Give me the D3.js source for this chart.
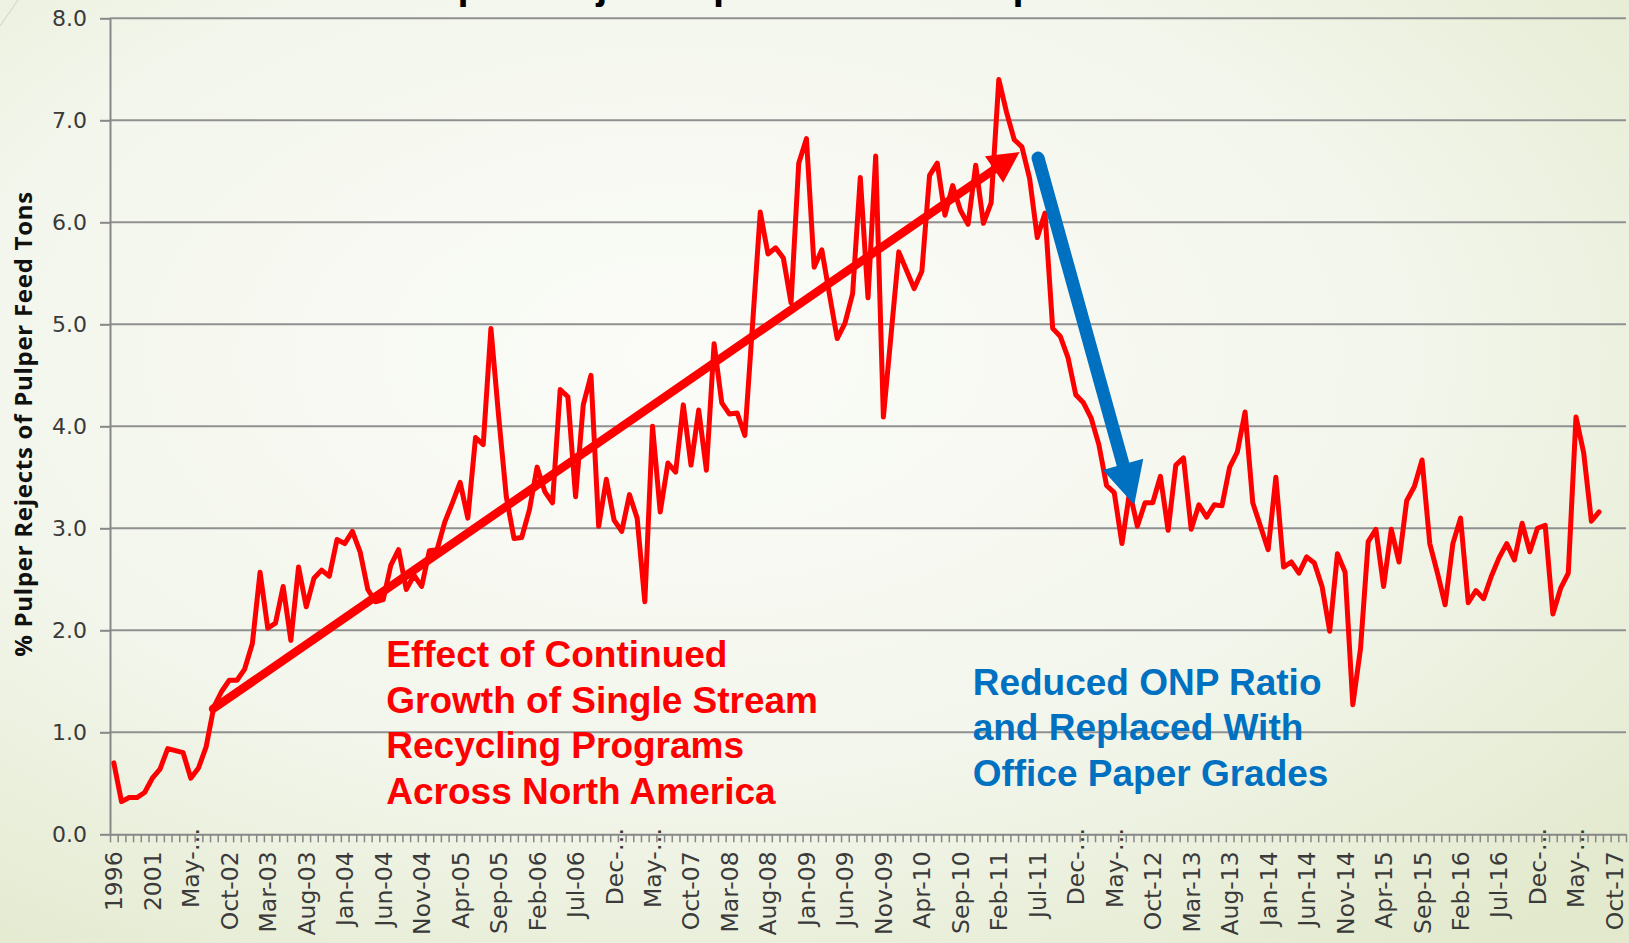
<!DOCTYPE html>
<html>
<head>
<meta charset="utf-8">
<script src="https://cdn.jsdelivr.net/npm/d3@7"></script>
<style>
  html, body { margin: 0; padding: 0; overflow: hidden; background: #f4f6ee; }
</style>
</head>
<body>
<div id="chart"></div>
<script>
// annual points first, then monthly Jan-02 .. Nov-17
const years = ["1996", "1997", "1998", "1999", "2000", "2001"];
const monthNames = ["Jan", "Feb", "Mar", "Apr", "May", "Jun", "Jul", "Aug", "Sep", "Oct", "Nov", "Dec"];
const categories = years.concat(
    d3.range(2002, 2018).flatMap(yr => monthNames.map(m => m + "-" + String(yr).slice(2)))
).slice(0, 197);

// % pulper rejects of pulper feed tons (ends Aug-17)
const rejects = [
    0.70, 0.32, 0.36, 0.36, 0.41, 0.55, 0.64, 0.84, 0.82, 0.80,
    0.55, 0.65, 0.86, 1.25, 1.40, 1.51, 1.51, 1.62, 1.87, 2.57,
    2.02, 2.07, 2.43, 1.90, 2.62, 2.23, 2.51, 2.59, 2.53, 2.89,
    2.85, 2.97, 2.77, 2.40, 2.28, 2.30, 2.64, 2.79, 2.40, 2.54,
    2.43, 2.78, 2.79, 3.06, 3.25, 3.45, 3.10, 3.89, 3.82, 4.96,
    4.10, 3.31, 2.90, 2.91, 3.18, 3.60, 3.36, 3.25, 4.36, 4.29,
    3.31, 4.21, 4.50, 3.02, 3.48, 3.08, 2.97, 3.33, 3.10, 2.28,
    4.00, 3.16, 3.64, 3.55, 4.21, 3.62, 4.16, 3.57, 4.81, 4.23,
    4.12, 4.13, 3.91, 5.00, 6.10, 5.69, 5.75, 5.65, 5.21, 6.58,
    6.82, 5.56, 5.73, 5.29, 4.86, 5.01, 5.30, 6.44, 5.26, 6.65,
    4.09, 4.90, 5.71, 5.53, 5.35, 5.52, 6.46, 6.58, 6.07, 6.36,
    6.12, 5.98, 6.56, 5.99, 6.19, 7.40, 7.08, 6.81, 6.74, 6.43,
    5.85, 6.09, 4.96, 4.88, 4.67, 4.31, 4.23, 4.08, 3.82, 3.42,
    3.35, 2.85, 3.36, 3.02, 3.25, 3.25, 3.51, 2.98, 3.62, 3.69,
    2.99, 3.23, 3.11, 3.23, 3.22, 3.60, 3.75, 4.14, 3.25, 3.02,
    2.79, 3.50, 2.62, 2.67, 2.56, 2.72, 2.66, 2.43, 1.99, 2.75,
    2.57, 1.27, 1.82, 2.87, 2.99, 2.43, 2.99, 2.67, 3.27, 3.41,
    3.67, 2.85, 2.56, 2.25, 2.85, 3.10, 2.27, 2.39, 2.31, 2.53,
    2.71, 2.85, 2.69, 3.05, 2.77, 3.00, 3.03, 2.16, 2.41, 2.56,
    4.09, 3.74, 3.07, 3.16
];

// every 5th category is labelled; the ones Excel cut short keep their ellipsis
const tickLabels = [
    "1996", "2001", "May-\u2026", "Oct-02", "Mar-03", "Aug-03", "Jan-04", "Jun-04", "Nov-04", "Apr-05",
    "Sep-05", "Feb-06", "Jul-06", "Dec-\u2026", "May-\u2026", "Oct-07", "Mar-08", "Aug-08", "Jan-09", "Jun-09",
    "Nov-09", "Apr-10", "Sep-10", "Feb-11", "Jul-11", "Dec-\u2026", "May-\u2026", "Oct-12", "Mar-13", "Aug-13",
    "Jan-14", "Jun-14", "Nov-14", "Apr-15", "Sep-15", "Feb-16", "Jul-16", "Dec-\u2026", "May-\u2026", "Oct-17"
];
const yTicks = [0, 1, 2, 3, 4, 5, 6, 7, 8];

// annotation arrows: [category index, value]
const trendArrow = [[12.9, 1.23], [117.7, 6.69]];
const onpArrow = [[120.1, 6.63], [132.6, 3.23]];

const trendText = ["Effect of Continued", "Growth of Single Stream", "Recycling Programs", "Across North America"];
const onpText = ["Reduced ONP Ratio", "and Replaced With", "Office Paper Grades"];
const trendTextPos = [35.4, 1.64];
const onpTextPos = [111.6, 1.37];

let dimensions = {
    width: 1629,
    height: 943,
    margin: {
        top: 18.3,
        right: 3,
        bottom: 108.7,
        left: 110,
    },
}
dimensions.boundedWidth = dimensions.width - dimensions.margin.left - dimensions.margin.right;
dimensions.boundedHeight = dimensions.height - dimensions.margin.top - dimensions.margin.bottom;

const root = d3.select("#chart")
    .append("svg")
    .attr("width", dimensions.width)
    .attr("height", dimensions.height)
    .style("display", "block");

// slide background
const defs = root.append("defs");
const grad = defs.append("radialGradient")
    .attr("id", "bg")
    .attr("cx", "42%").attr("cy", "38%").attr("r", "80%");
grad.append("stop").attr("offset", "0%").attr("stop-color", "#fbfcf8");
grad.append("stop").attr("offset", "55%").attr("stop-color", "#f3f6ec");
grad.append("stop").attr("offset", "100%").attr("stop-color", "#e2e9cc");
root.append("rect")
    .attr("width", dimensions.width)
    .attr("height", dimensions.height)
    .attr("fill", "url(#bg)");
root.append("line")
    .attr("x1", 0).attr("y1", 26).attr("x2", 18).attr("y2", 0)
    .attr("stroke", "#d5dac6").attr("stroke-width", 1.2);

// slide title, mostly above the visible area (only descenders show)
root.append("text")
    .attr("x", 388)
    .attr("y", -1)
    .style("font-family", "'Liberation Sans', Arial, sans-serif")
    .style("font-weight", "bold")
    .style("font-size", "40px")
    .style("letter-spacing", "2.4px")
    .attr("fill", "#000")
    .text("Pulper Rejects per Ton of Pulper Feed");

const svg = root.append("g")
    .attr("transform", `translate(${dimensions.margin.left}, ${dimensions.margin.top})`);

const n = categories.length;
const x = d3.scaleBand()
    .domain(categories)
    .range([0, dimensions.boundedWidth])
    .padding(0);
// same axis, by category index (for fractional annotation positions)
const xi = d3.scaleLinear()
    .domain([-0.5, n - 0.5])
    .range([0, dimensions.boundedWidth]);
const y = d3.scaleLinear()
    .domain([0, 8])
    .range([dimensions.boundedHeight, 0]);

const axisColor = "#878787";
const tickFont = "'DejaVu Sans', sans-serif";

// gridlines
svg.append("g")
    .selectAll("line")
    .data(yTicks.filter(d => d > 0))
    .join("line")
    .attr("x1", 0)
    .attr("x2", dimensions.boundedWidth)
    .attr("y1", d => y(d))
    .attr("y2", d => y(d))
    .attr("stroke", "#909090")
    .attr("stroke-width", 2);

// Y axis
const yAxis = svg.append("g")
    .call(d3.axisLeft(y).tickValues(yTicks).tickFormat(d3.format(".1f")).tickSize(10).tickSizeOuter(0).tickPadding(13));
yAxis.select(".domain").attr("stroke", axisColor).attr("stroke-width", 2);
yAxis.selectAll(".tick line").attr("stroke", axisColor).attr("stroke-width", 2);
yAxis.selectAll("text")
    .style("font-family", tickFont)
    .style("font-size", "22px")
    .attr("fill", "#3a3a3a");

// X axis: tick marks between categories
const xTicks = svg.append("g")
    .attr("transform", `translate(0, ${dimensions.boundedHeight})`)
    .call(d3.axisBottom(xi).tickValues(d3.range(0, n + 1).map(k => k - 0.5)).tickFormat("").tickSize(8).tickSizeOuter(0));
xTicks.select(".domain").attr("stroke", axisColor).attr("stroke-width", 2);
xTicks.selectAll(".tick line").attr("stroke", axisColor).attr("stroke-width", 1.5);

// X axis labels, every 5th category, rotated
const labelCats = categories.filter((d, i) => i % 5 === 0);
const xLabels = svg.append("g")
    .attr("transform", `translate(0, ${dimensions.boundedHeight})`)
    .call(d3.axisBottom(x).tickValues(labelCats).tickFormat((d, i) => tickLabels[i]).tickSize(0));
xLabels.select(".domain").remove();

const labelSize = "23.5px";
const probe = svg.append("text").style("font-family", tickFont).style("font-size", labelSize).text("\u2026");
const ellW = probe.node().getComputedTextLength();
probe.remove();

xLabels.selectAll("text")
    .style("font-family", tickFont)
    .style("font-size", labelSize)
    .attr("fill", "#3a3a3a")
    .style("text-anchor", "end")
    .attr("transform", "rotate(-90)")
    .attr("y", 0)
    .attr("dy", "0.36em")
    .attr("x", function () {
        const t = d3.select(this).text();
        return t.endsWith("\u2026") ? -(17 - ellW) : -17;
    });

// data line
const line = d3.line()
    .x((d, i) => x(categories[i]) + x.bandwidth() / 2)
    .y(d => y(d));
svg.append("path")
    .datum(rejects)
    .attr("d", line)
    .attr("fill", "none")
    .attr("stroke", "#ff0000")
    .attr("stroke-width", 5)
    .attr("stroke-linejoin", "round")
    .attr("stroke-linecap", "round");

function drawArrow(pts, color, shaftW, headL, headW) {
    const [x0, y0] = [xi(pts[0][0]), y(pts[0][1])];
    const [x1, y1] = [xi(pts[1][0]), y(pts[1][1])];
    const len = Math.hypot(x1 - x0, y1 - y0);
    const ux = (x1 - x0) / len, uy = (y1 - y0) / len;
    const nx = -uy, ny = ux;
    const bx = x1 - ux * headL, by = y1 - uy * headL;
    svg.append("line")
        .attr("x1", x0).attr("y1", y0)
        .attr("x2", bx + ux * 2).attr("y2", by + uy * 2)
        .attr("stroke", color)
        .attr("stroke-width", shaftW)
        .attr("stroke-linecap", "round");
    svg.append("path")
        .attr("d", `M${x1},${y1}L${bx + nx * headW / 2},${by + ny * headW / 2}L${bx - nx * headW / 2},${by - ny * headW / 2}Z`)
        .attr("fill", color);
}

drawArrow(trendArrow, "#ff0000", 8.5, 31, 32);
drawArrow(onpArrow, "#0070c0", 13, 42, 42);

function drawNote(lines, pos, color) {
    svg.append("text")
        .attr("x", xi(pos[0]))
        .attr("y", y(pos[1]))
        .style("font-family", "'Liberation Sans', Arial, sans-serif")
        .style("font-weight", "bold")
        .style("font-size", "37px")
        .attr("fill", color)
        .selectAll("tspan")
        .data(lines)
        .join("tspan")
        .attr("x", xi(pos[0]))
        .attr("dy", (d, i) => i === 0 ? 0 : 45.5)
        .text(d => d);
}
drawNote(trendText, trendTextPos, "#ff0000");
drawNote(onpText, onpTextPos, "#0070c0");

// y axis title
root.append("text")
    .attr("transform", `translate(32, ${dimensions.margin.top + dimensions.boundedHeight / 2 - 2}) rotate(-90)`)
    .attr("text-anchor", "middle")
    .attr("textLength", 465)
    .style("font-family", "'Open Sans', sans-serif")
    .style("font-weight", "bold")
    .style("font-size", "24px")
    .attr("fill", "#111")
    .text("% Pulper Rejects of Pulper Feed Tons");
</script>
</body>
</html>
